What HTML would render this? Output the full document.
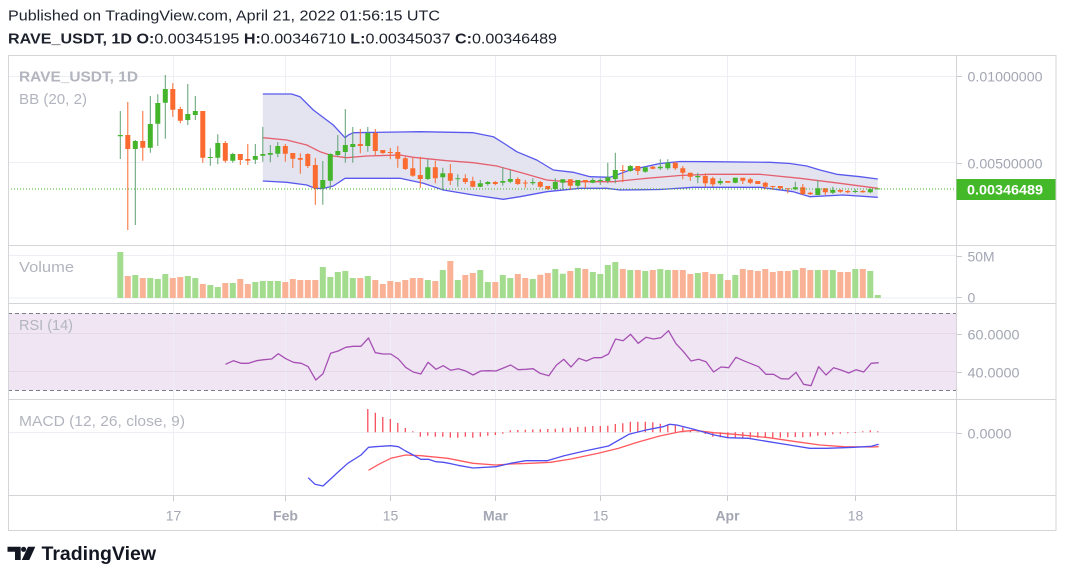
<!DOCTYPE html>
<html><head><meta charset="utf-8"><style>
html,body{margin:0;padding:0;background:#fff;}
svg{display:block;font-family:"Liberation Sans",sans-serif;}
</style></head><body>
<svg width="1065" height="578" viewBox="0 0 1065 578" xmlns="http://www.w3.org/2000/svg">
<rect width="1065" height="578" fill="#fff"/>
<!-- header -->
<text x="8" y="20.5" font-size="15" fill="#1e222d" textLength="432" lengthAdjust="spacingAndGlyphs">Published on TradingView.com, April 21, 2022 01:56:15 UTC</text>
<text x="8" y="43.5" font-size="15" fill="#1e222d" textLength="549" lengthAdjust="spacingAndGlyphs"><tspan font-weight="bold">RAVE_USDT, 1D O:</tspan>0.00345195 <tspan font-weight="bold">H:</tspan>0.00346710 <tspan font-weight="bold">L:</tspan>0.00345037 <tspan font-weight="bold">C:</tspan>0.00346489</text>

<!-- RSI band -->
<rect x="8" y="313.3" width="948.5" height="77" fill="#f0e5f3"/>

<!-- gridlines -->
<g stroke="#eeeff4" stroke-width="1">
<path d="M173.5 55V495M285.5 55V495M390.5 55V495M495.5 55V495M600.5 55V495M727.5 55V495M855.5 55V495"/>
<path d="M8 76.5H956M8 162.5H956M8 255.5H956M8 298H956M8 432.5H956"/>
</g>
<path d="M8 333.5H956M8 371.5H956" stroke="#e4d8ea" stroke-width="1"/>
<path d="M8 313.5H956M8 390.5H956" stroke="#7b7e88" stroke-width="1" stroke-dasharray="4,3"/>

<!-- Bollinger -->
<path d="M262.8 94L291.7 94 300 96.7 313.3 110 333.3 125 345 137.7 348.3 135 353.3 132.7 400 132 420 131.7 473.3 132.7 493.3 136.7 505 144 516.7 151.7 536.7 160 553.3 170 573.3 172.3 590 176.7 610 177.3 630 170 660 163.5 680 161.5 710 161.7 770 162.3 790 163.5 806.7 166 820 170 836.7 174.3 860 176.7 877.8 179L877.8 197.3 843.3 195 810 196.7 793.3 191.7 760 187.3 693.3 187.3 660 189.5 620 190 606.7 188.3 580 188.3 546.7 191.7 520 196.7 503.3 199.3 473.3 195 443.3 190 423.3 183.3 400 178.3 345 178.3 333.3 186 323 188.5 315 188.3 306.7 185 286.7 182.3 262.8 181Z" fill="#e4e4f1"/>
<g fill="none" stroke-width="1.3" stroke-linejoin="round">
<path d="M262.8 94L291.7 94 300 96.7 313.3 110 333.3 125 345 137.7 348.3 135 353.3 132.7 400 132 420 131.7 473.3 132.7 493.3 136.7 505 144 516.7 151.7 536.7 160 553.3 170 573.3 172.3 590 176.7 610 177.3 630 170 660 163.5 680 161.5 710 161.7 770 162.3 790 163.5 806.7 166 820 170 836.7 174.3 860 176.7 877.8 179" stroke="#5858ee"/>
<path d="M262.8 181L286.7 182.3 306.7 185 315 188.3 323 188.5 333.3 186 345 178.3 400 178.3 423.3 183.3 443.3 190 473.3 195 503.3 199.3 520 196.7 546.7 191.7 580 188.3 606.7 188.3 620 190 660 189.5 693.3 187.3 760 187.3 793.3 191.7 810 196.7 843.3 195 877.8 197.3" stroke="#5858ee"/>
<path d="M262.8 137.7L286.7 140 306.7 145 320 151.7 333.3 156 346.7 157.7 366.7 156 400 155 413.3 157.3 446.7 160.7 473.3 162.7 496.7 166 523.3 173.3 546.7 180 566.7 181.7 613.3 181.7 646.7 178.3 680 175.5 710 174.3 760 174.3 800 178.3 840 183.3 877.8 188.3" stroke="#e5606e"/>
</g>

<!-- candles -->
<path stroke="#5f9f72" stroke-width="1" fill="none" d="M120.3 111V159M135.3 140V225M150.3 96V152.7M157.8 94.3V146M165.3 75V138.7M187.8 84V125M195.3 96V120M210.3 148.3V165.7M217.8 134.3V164.3M232.8 152.7V162.7M255.3 144V164M262.8 127V161.7M270.3 145V162.3M277.8 142V157.3M322.8 161V204.7M330.3 153.3V189.3M337.8 135V156.7M345.3 109V162.7M352.8 127V162.7M367.8 127V151.7M427.8 159.3V180M442.8 167.7V190M457.8 174.3V186.7M480.3 180V187.3M487.8 181V185.7M502.8 167.3V185.7M510.3 170V183.3M532.8 178.3V185M555.3 178.3V190M562.8 179.3V189.3M577.8 180V188.3M592.8 178.3V183.3M600.3 178.3V185M607.8 162.7V183.3M615.3 152.7V183.3M630.3 165V171.7M645.3 166.7V172.7M660.3 159.3V170M667.8 159.3V170M697.8 172.7V183.3M720.3 178.3V185M735.3 177.7V183.3M795.3 181.7V190M817.8 180V195M832.8 186.7V194M855.3 189.3V193.3M870.3 188.3V193.3M877.8 188.5V189.5"/>
<path fill="#44b52b" d="M117.8 135h5V136.3h-5zM132.8 141h5V149h-5zM147.8 124h5V147.7h-5zM155.3 103h5V123.7h-5zM162.8 89h5V102.7h-5zM185.3 114h5V120h-5zM192.8 111h5V115h-5zM207.8 157h5V158h-5zM215.3 143h5V157.7h-5zM230.3 154h5V160.7h-5zM252.8 156h5V159.7h-5zM260.3 154h5V155.7h-5zM267.8 153h5V154.7h-5zM275.3 146h5V153.7h-5zM320.3 180h5V188.3h-5zM327.8 154h5V180.7h-5zM335.3 151h5V155h-5zM342.8 145h5V152h-5zM350.3 144h5V147h-5zM365.3 133h5V146h-5zM425.3 167.3h5V179h-5zM440.3 173.3h5V177.3h-5zM455.3 178.3h5V179.3h-5zM477.8 183.3h5V186.7h-5zM485.3 182h5V184h-5zM500.3 181h5V182.7h-5zM507.8 179h5V181.7h-5zM530.3 182h5V183.3h-5zM552.8 182h5V189h-5zM560.3 179.3h5V182.7h-5zM575.3 180h5V185.7h-5zM590.3 180h5V182.7h-5zM597.8 180h5V181h-5zM605.3 177.3h5V181h-5zM612.8 170h5V179h-5zM627.8 166h5V171h-5zM642.8 167.3h5V171.7h-5zM657.8 166.7h5V168.3h-5zM665.3 162.7h5V168.3h-5zM695.3 176h5V177.3h-5zM717.8 181h5V183.3h-5zM732.8 177.7h5V182.7h-5zM792.8 187.3h5V189.3h-5zM815.3 188.3h5V195h-5zM830.3 190h5V192.7h-5zM852.8 191h5V192h-5zM867.8 189.3h5V192.3h-5zM875.3 188.4h5V189.4h-5z"/>
<path stroke="#f86a30" stroke-width="1" fill="none" d="M127.8 102V230M142.8 111V160.7M172.8 83.3V116.7M180.3 106.7V123.3M202.8 111V162.7M225.3 141V162.7M240.3 154V165M247.8 144V165M285.3 144V161.7M292.8 153V168M300.3 153.3V173.7M307.8 153.3V168M315.3 158V204.7M360.3 129V153.3M375.3 129V155.3M382.8 150V154M390.3 148V159.3M397.8 146V167.7M405.3 156.7V170M412.8 157.7V176.7M420.3 156.7V187.7M435.3 160.7V183.3M450.3 164V185M465.3 174.3V184M472.8 176.7V187.3M495.3 181V185.3M517.8 177.3V185M525.3 180V187.7M540.3 181V187.7M547.8 186V190M570.3 179.3V190M585.3 180V188.3M622.8 165V182.3M637.8 166V175M652.8 166V169.3M675.3 161.7V170M682.8 166V179.3M690.3 172.7V180.7M705.3 173.3V186.7M712.8 176.7V186.7M727.8 181V182.7M742.8 177.7V184M750.3 177.7V184.3M757.8 181V184M765.3 181.7V189.3M772.8 186V190M780.3 186V190M787.8 188.3V193.3M802.8 184V195M810.3 191.7V195M825.3 188.3V195M840.3 189.3V192.7M847.8 190V193.3M862.8 190V192.7"/>
<path fill="#fb6a2e" d="M125.3 135h5V149h-5zM140.3 141h5V147.7h-5zM170.3 89h5V109.7h-5zM177.8 109h5V120.7h-5zM200.3 111h5V157.7h-5zM222.8 143h5V160.7h-5zM237.8 154h5V160h-5zM245.3 159h5V160.7h-5zM282.8 146h5V153.7h-5zM290.3 153h5V158.7h-5zM297.8 158h5V159.7h-5zM305.3 154h5V166h-5zM312.8 165h5V188.3h-5zM357.8 144h5V146h-5zM372.8 133h5V151h-5zM380.3 150h5V153h-5zM387.8 152h5V153h-5zM395.3 152h5V158.7h-5zM402.8 158.3h5V169h-5zM410.3 168.3h5V175.7h-5zM417.8 175h5V179h-5zM432.8 167.3h5V178.3h-5zM447.8 173.3h5V180.7h-5zM462.8 178.3h5V182h-5zM470.3 181h5V186.7h-5zM492.8 182h5V184h-5zM515.3 179h5V184h-5zM522.8 182.5h5V183.5h-5zM537.8 182h5V186.7h-5zM545.3 186h5V189h-5zM567.8 179.3h5V185.7h-5zM582.8 180h5V182.3h-5zM620.3 170h5V171h-5zM635.3 166h5V171h-5zM650.3 166.7h5V168.7h-5zM672.8 162.7h5V168.3h-5zM680.3 168.3h5V172.7h-5zM687.8 172.7h5V176.7h-5zM702.8 176h5V183.3h-5zM710.3 178.3h5V184.3h-5zM725.3 181h5V182.7h-5zM740.3 177.7h5V180.7h-5zM747.8 179.3h5V182.7h-5zM755.3 181h5V184h-5zM762.8 182.7h5V186.7h-5zM770.3 186h5V187h-5zM777.8 186h5V188.3h-5zM785.3 188.3h5V189.3h-5zM800.3 187.3h5V194h-5zM807.8 192.7h5V194.3h-5zM822.8 188.3h5V192.3h-5zM837.8 190h5V191.7h-5zM845.3 191h5V192.3h-5zM860.3 191h5V192.3h-5z"/>

<!-- price line -->
<path d="M8 189H956" stroke="#46b32a" stroke-width="1" stroke-dasharray="1,2"/>

<!-- volume -->
<path fill="#a3dc8e" d="M117.3 252h6V298h-6zM132.3 275h6V298h-6zM147.3 278h6V298h-6zM154.8 279h6V298h-6zM162.3 274h6V298h-6zM184.8 276h6V298h-6zM192.3 278h6V298h-6zM207.3 285h6V298h-6zM214.8 287h6V298h-6zM229.8 283h6V298h-6zM252.3 282h6V298h-6zM259.8 281h6V298h-6zM267.3 281h6V298h-6zM274.8 281h6V298h-6zM319.8 267h6V298h-6zM327.3 277h6V298h-6zM334.8 272h6V298h-6zM342.3 271h6V298h-6zM349.8 278h6V298h-6zM364.8 276h6V298h-6zM424.8 280h6V298h-6zM439.8 270h6V298h-6zM454.8 280h6V298h-6zM477.3 270h6V298h-6zM484.8 282h6V298h-6zM499.8 275h6V298h-6zM507.3 278h6V298h-6zM529.8 279h6V298h-6zM552.3 269h6V298h-6zM559.8 273.7h6V298h-6zM574.8 268h6V298h-6zM589.8 272h6V298h-6zM597.3 274h6V298h-6zM604.8 265h6V298h-6zM612.3 262h6V298h-6zM627.3 270h6V298h-6zM642.3 271h6V298h-6zM657.3 269h6V298h-6zM664.8 270h6V298h-6zM694.8 273h6V298h-6zM717.3 274h6V298h-6zM732.3 275h6V298h-6zM792.3 270h6V298h-6zM814.8 270h6V298h-6zM829.8 270h6V298h-6zM852.3 269h6V298h-6zM867.3 271h6V298h-6zM874.8 295h6V298h-6z"/>
<path fill="#f9b295" d="M124.8 276h6V298h-6zM139.8 278h6V298h-6zM169.8 278h6V298h-6zM177.3 277h6V298h-6zM199.8 284h6V298h-6zM222.3 283h6V298h-6zM237.3 279h6V298h-6zM244.8 284h6V298h-6zM282.3 282h6V298h-6zM289.8 279h6V298h-6zM297.3 280h6V298h-6zM304.8 280h6V298h-6zM312.3 280h6V298h-6zM357.3 278h6V298h-6zM372.3 280h6V298h-6zM379.8 284h6V298h-6zM387.3 281h6V298h-6zM394.8 282h6V298h-6zM402.3 280h6V298h-6zM409.8 278h6V298h-6zM417.3 278h6V298h-6zM432.3 281h6V298h-6zM447.3 261h6V298h-6zM462.3 275h6V298h-6zM469.8 273h6V298h-6zM492.3 282h6V298h-6zM514.8 274h6V298h-6zM522.3 278h6V298h-6zM537.3 274.7h6V298h-6zM544.8 273h6V298h-6zM567.3 271h6V298h-6zM582.3 269h6V298h-6zM619.8 269h6V298h-6zM634.8 270h6V298h-6zM649.8 270h6V298h-6zM672.3 270h6V298h-6zM679.8 270h6V298h-6zM687.3 274h6V298h-6zM702.3 272h6V298h-6zM709.8 274h6V298h-6zM724.8 280h6V298h-6zM739.8 269h6V298h-6zM747.3 270h6V298h-6zM754.8 271h6V298h-6zM762.3 269h6V298h-6zM769.8 272h6V298h-6zM777.3 271h6V298h-6zM784.8 271h6V298h-6zM799.8 268h6V298h-6zM807.3 270h6V298h-6zM822.3 270h6V298h-6zM837.3 272h6V298h-6zM844.8 272h6V298h-6zM859.8 269h6V298h-6z"/>

<!-- RSI line -->
<path fill="none" stroke="#a650b4" stroke-width="1.3" stroke-linejoin="round" d="M225.5 364.3L233.5 360.7 241 363.3 248.6 363.3 256.5 360.7 264 359.7 271.7 359 278.2 353.7 285.8 358.7 293.4 362.3 301.3 363.3 308.2 366.7 315.8 380 323 373.7 330.6 353.3 338.2 351 345.7 347.3 353 346.3 360.9 346.3 368.5 338 375.3 352.7 383.3 354 390.8 354 398.4 359 405.6 367.3 413.2 372 420.8 374 428 362.3 436 369.3 443.2 365.7 450.8 370.3 458.3 368.7 465.6 371 473.1 375 480.7 371 488.3 370.7 495.9 371 503.4 368 510.7 365 518.2 369.7 525.8 369.3 533.1 368.7 540 373.3 548.8 375.7 556.3 365.3 563.8 359.3 571 367 578.8 358.3 586.3 361 593.8 357.7 601.3 357.7 608.5 354 615.6 339 623.1 340.7 630.6 334.3 638.2 343.3 646 337.3 653.5 339 661 337.7 668.5 330.7 676 343.7 683.5 351.7 691 361 698.5 359.3 706 361.7 713.6 372 721 367 728.6 367.7 736 357.3 743.6 360.7 751 363.7 758.6 366.7 766 374.3 773.6 374.3 781 378.7 788.6 379 796 372.3 803.6 384.3 811 385.7 818.6 366.7 826 375 833.6 367.7 841 370 848.7 373 856.2 369.7 863.7 372 871.2 363.3 878.7 362.7"/>

<!-- MACD histogram -->
<path fill="none" stroke="#f7404f" stroke-width="1.2" d="M367.8 432.3V409M375.3 432.3V412.7M382.8 432.3V417M390.3 432.3V419M397.8 432.3V423M405.3 432.3V428M412.8 432.3V431.3M420.3 432.3V436.7M427.8 432.3V435.7M435.3 432.3V436.7M442.8 432.3V436.7M450.3 432.3V437.7M457.8 432.3V437.7M465.3 432.3V436.7M472.8 432.3V437.7M480.3 432.3V436.7M487.8 432.3V435.7M495.3 432.3V435M502.8 432.3V433.7M510.3 432.3V430.3M517.8 432.3V430M525.3 432.3V429.7M532.8 432.3V429.5M540.3 432.3V429.3M547.8 432.3V429M555.3 432.3V428.7M562.8 432.3V427.7M570.3 432.3V427.7M577.8 432.3V427M585.3 432.3V426.7M592.8 432.3V426M600.3 432.3V426M607.8 432.3V425.7M615.3 432.3V424M622.8 432.3V423.3M630.3 432.3V421.7M637.8 432.3V421.7M645.3 432.3V421.7M652.8 432.3V422.3M660.3 432.3V423.7M667.8 432.3V424.3M675.3 432.3V425.3M682.8 432.3V427.3M690.3 432.3V430M697.8 432.3V431.7M705.3 432.3V434M712.8 432.3V436.7M720.3 432.3V437.3M727.8 432.3V438.3M735.3 432.3V438.3M742.8 432.3V437.7M750.3 432.3V437.7M757.8 432.3V437.7M765.3 432.3V437.7M772.8 432.3V437.7M780.3 432.3V437.7M787.8 432.3V437.3M795.3 432.3V437M802.8 432.3V437.3M810.3 432.3V436.7M817.8 432.3V435.7M825.3 432.3V435.3M832.8 432.3V434.3M840.3 432.3V433.7M847.8 432.3V433.3M855.3 432.3V433M862.8 432.3V431.3M870.3 432.3V430.3M877.8 432.3V431.3"/>
<path fill="none" stroke="#ff5a5f" stroke-width="1.3" stroke-linejoin="round" d="M368.5 470.3L378.8 464.3 390.8 458.3 405.6 455 420.8 455.7 447.7 458.3 473.1 463.3 495.9 465 510.7 464 530 463.3 550.5 462.3 571 459 598.2 453.3 618.7 448.3 639.2 441.7 659.6 436 680.1 431.7 693.8 430.3 714.2 432.7 734.7 434.3 768.8 437.7 796.1 441.7 820 445 843.9 446.7 871.2 447 878.7 446.7"/>
<path fill="none" stroke="#5050f0" stroke-width="1.3" stroke-linejoin="round" d="M308.2 477.7L315 484.3 323 486 330.6 479 339.2 471 347.8 463.3 361 455 368.5 447.3 375.3 446.7 390.8 445.7 398.4 446.7 405.6 451 413.2 455 420.8 459.3 428.4 459.3 436 461.7 443.5 462.3 451 463.7 458 465.3 473.1 468 495.9 466.7 510.7 463.3 525.8 460.7 547 460.7 564.1 455.7 584.6 451 608.5 446 628.9 434.3 646 430 663 426.7 669.9 424.3 676.7 425 693.8 429.3 714.2 435 727.9 437.7 748.4 438.3 768.8 441.7 789.3 445 809.8 448.3 826.8 448.3 854.1 447.3 871.2 446.3 878.7 444.3"/>

<!-- pane labels -->
<g fill="#b2b5be" font-size="15">
<text x="19" y="81.5" font-weight="bold" textLength="119" lengthAdjust="spacingAndGlyphs">RAVE_USDT, 1D</text>
<text x="19" y="104" textLength="68" lengthAdjust="spacingAndGlyphs">BB (20, 2)</text>
<text x="19" y="272" textLength="55" lengthAdjust="spacingAndGlyphs">Volume</text>
<text x="19" y="330" textLength="54" lengthAdjust="spacingAndGlyphs">RSI (14)</text>
<text x="19" y="426" textLength="166" lengthAdjust="spacingAndGlyphs">MACD (12, 26, close, 9)</text>
</g>

<!-- frame & separators -->
<g stroke="#d4d5d9" stroke-width="1" fill="none">
<rect x="8.5" y="55.5" width="1047.5" height="475"/>
<path d="M8 245.5H1056M8 303.5H1056M8 399.5H1056M8 495.5H1056M956.5 55V531"/>
</g>
<!-- axis ticks -->
<g stroke="#c8cad0" stroke-width="1">
<path d="M957 76.5H962M957 163.5H962M957 256.5H962M957 297.5H962M957 334.5H962M957 372.5H962M957 433.5H962"/>
<path d="M173.5 496V501M285.5 496V501M390.5 496V501M495.5 496V501M600.5 496V501M727.5 496V501M855.5 496V501"/>
</g>

<!-- price axis labels -->
<g fill="#a3a6b3" font-size="14">
<text x="967.5" y="81.5" textLength="75" lengthAdjust="spacingAndGlyphs">0.01000000</text>
<text x="967.5" y="168.5" textLength="75" lengthAdjust="spacingAndGlyphs">0.00500000</text>
<text x="967.5" y="261.5" textLength="27" lengthAdjust="spacingAndGlyphs">50M</text>
<text x="967.5" y="302.5">0</text>
<text x="967.5" y="339.5" textLength="52" lengthAdjust="spacingAndGlyphs">60.0000</text>
<text x="967.5" y="377.5" textLength="52" lengthAdjust="spacingAndGlyphs">40.0000</text>
<text x="967.5" y="438.5" textLength="44" lengthAdjust="spacingAndGlyphs">0.0000</text>
</g>
<rect x="956.5" y="179" width="99" height="21" fill="#43b829"/>
<text x="967" y="194.5" fill="#fff" font-size="14" font-weight="bold" textLength="76" lengthAdjust="spacingAndGlyphs">0.00346489</text>

<!-- time axis labels -->
<g fill="#a3a6b3" font-size="14" text-anchor="middle">
<text x="173.5" y="520.5">17</text>
<text x="285.5" y="520.5" font-weight="bold">Feb</text>
<text x="390.5" y="520.5">15</text>
<text x="495.5" y="520.5" font-weight="bold">Mar</text>
<text x="600.5" y="520.5">15</text>
<text x="727.5" y="520.5" font-weight="bold">Apr</text>
<text x="855.5" y="520.5">18</text>
</g>

<!-- logo -->
<g fill="#131722">
<path d="M7.5 546.7H20.7V560H15V551.7H7.5Z"/>
<circle cx="23.6" cy="549.3" r="2.6"/>
<path d="M28 546.7H35.3L29.3 560H21.8Z"/>
<text x="41.5" y="560" font-size="19" font-weight="bold" textLength="114.5" lengthAdjust="spacingAndGlyphs">TradingView</text>
</g>
</svg>
</body></html>
